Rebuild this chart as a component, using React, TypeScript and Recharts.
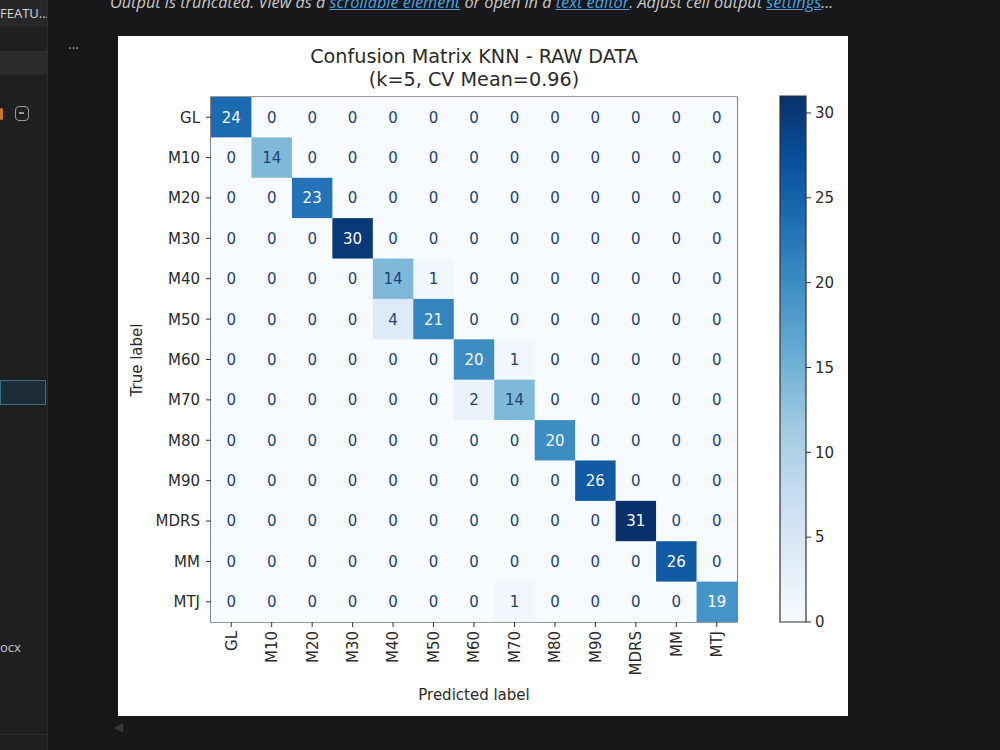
import React from 'react';
import { ScatterChart, Scatter, XAxis, YAxis, ReferenceArea, BarChart, Bar } from 'recharts';

const labels = ['GL', 'M10', 'M20', 'M30', 'M40', 'M50', 'M60', 'M70', 'M80', 'M90', 'MDRS', 'MM', 'MTJ'];

const rowGL = [24, 0, 0, 0, 0, 0, 0, 0, 0, 0, 0, 0, 0];
const rowM10 = [0, 14, 0, 0, 0, 0, 0, 0, 0, 0, 0, 0, 0];
const rowM20 = [0, 0, 23, 0, 0, 0, 0, 0, 0, 0, 0, 0, 0];
const rowM30 = [0, 0, 0, 30, 0, 0, 0, 0, 0, 0, 0, 0, 0];
const rowM40 = [0, 0, 0, 0, 14, 1, 0, 0, 0, 0, 0, 0, 0];
const rowM50 = [0, 0, 0, 0, 4, 21, 0, 0, 0, 0, 0, 0, 0];
const rowM60 = [0, 0, 0, 0, 0, 0, 20, 1, 0, 0, 0, 0, 0];
const rowM70 = [0, 0, 0, 0, 0, 0, 2, 14, 0, 0, 0, 0, 0];
const rowM80 = [0, 0, 0, 0, 0, 0, 0, 0, 20, 0, 0, 0, 0];
const rowM90 = [0, 0, 0, 0, 0, 0, 0, 0, 0, 26, 0, 0, 0];
const rowMDRS = [0, 0, 0, 0, 0, 0, 0, 0, 0, 0, 31, 0, 0];
const rowMM = [0, 0, 0, 0, 0, 0, 0, 0, 0, 0, 0, 26, 0];
const rowMTJ = [0, 0, 0, 0, 0, 0, 0, 1, 0, 0, 0, 0, 19];

const matrix = [rowGL, rowM10, rowM20, rowM30, rowM40, rowM50, rowM60, rowM70, rowM80, rowM90, rowMDRS, rowMM, rowMTJ];
const colorbarTicks = [0, 5, 10, 15, 20, 25, 30];

const vmin = Math.min(...matrix.flat());
const vmax = Math.max(...matrix.flat());
const thresh = (vmin + vmax) / 2;

const BLUES = ['#f7fbff', '#deebf7', '#c6dbef', '#9ecae1', '#6baed6', '#4292c6', '#2171b5', '#08519c', '#08306b'];

function hexToRgb(h: string) {
  return [parseInt(h.slice(1, 3), 16), parseInt(h.slice(3, 5), 16), parseInt(h.slice(5, 7), 16)];
}
function blues(t: number) {
  const c = Math.max(0, Math.min(1, t));
  const p = c * (BLUES.length - 1);
  const i = Math.min(BLUES.length - 2, Math.floor(p));
  const f = p - i;
  const a = hexToRgb(BLUES[i]);
  const b = hexToRgb(BLUES[i + 1]);
  const r = a.map((v, k) => Math.round(v + (b[k] - v) * f));
  return `rgb(${r[0]},${r[1]},${r[2]})`;
}

const cells = matrix.flatMap((row, i) => row.map((v, j) => ({ x: j, y: i, v })));
const idx = labels.map((_, i) => i);
const cbData = [{ name: 'cb', v: vmax }];

const FONT = '"DejaVu Sans", Verdana, sans-serif';
const BOX_W = 730;
const BOX_H = 680;
const MARGIN = { top: 61, right: 111, left: 33, bottom: 34 };
const Y_W = 60;
const X_H = 60;
const PLOT_W = BOX_W - MARGIN.left - MARGIN.right - Y_W;
const PLOT_H = BOX_H - MARGIN.top - MARGIN.bottom - X_H;
const CW = PLOT_W / labels.length;
const CH = PLOT_H / labels.length;
const TEXT = '#2a2a2a';

const CellShape = (props: any) => {
  const { cx, cy, payload } = props;
  if (cx == null || cy == null) return null;
  const v = payload.v;
  return (
    <g>
      <rect x={cx - CW / 2} y={cy - CH / 2} width={CW + 0.6} height={CH + 0.6} fill={blues((v - vmin) / (vmax - vmin))} />
      <text
        x={cx}
        y={cy}
        dy="0.36em"
        textAnchor="middle"
        fontSize={15}
        fontFamily={FONT}
        fill={v < thresh ? '#1f4276' : '#f7fbff'}
      >
        {v}
      </text>
    </g>
  );
};

const YTick = (props: any) => {
  const { x, y, payload } = props;
  return (
    <text x={x} y={y} dy="0.36em" textAnchor="end" fontSize={15} fontFamily={FONT} fill={TEXT}>
      {labels[payload.value]}
    </text>
  );
};

const XTick = (props: any) => {
  const { x, y, payload } = props;
  return (
    <text
      x={x}
      y={y}
      dy="0.36em"
      textAnchor="end"
      fontSize={15}
      fontFamily={FONT}
      fill={TEXT}
      transform={`rotate(-90, ${x}, ${y})`}
    >
      {labels[payload.value]}
    </text>
  );
};

const Sidebar = () => (
  <div style={{ position: 'absolute', left: 0, top: 0, width: 47, height: 750, background: '#1e1f21', borderRight: '1px solid #2c2c2e', overflow: 'hidden' }}>
    <div style={{ position: 'absolute', left: 0, top: 0, width: 47, height: 27, background: '#262729', color: '#d6d6d6', fontFamily: '"Open Sans", sans-serif', fontSize: 13, lineHeight: '27px', whiteSpace: 'nowrap' }}>FEATU...</div>
    <div style={{ position: 'absolute', left: 0, top: 51, width: 47, height: 24, background: '#2a2b2d' }} />
    <div style={{ position: 'absolute', left: 0, top: 108, width: 3, height: 12, background: '#c8782d', borderRadius: 2 }} />
    <div style={{ position: 'absolute', left: 15, top: 106, width: 14, height: 15, border: '1.5px solid #9a9a9a', borderRadius: 4, boxSizing: 'border-box' }}>
      <div style={{ position: 'absolute', left: 3, top: 5, width: 5, height: 1.5, background: '#9a9a9a' }} />
    </div>
    <div style={{ position: 'absolute', left: 0, top: 380, width: 46, height: 25, background: '#1d2c36', border: '1px solid #3c6b84', boxSizing: 'border-box' }} />
    <div style={{ position: 'absolute', left: 0, top: 638, color: '#c8c8c8', fontFamily: '"Open Sans", sans-serif', fontSize: 13 }}>ocx</div>
    <div style={{ position: 'absolute', left: 0, top: 734, width: 47, height: 1, background: '#2f2f31' }} />
  </div>
);

export default function App() {
  return (
    <div style={{ position: 'absolute', left: 0, top: 0, width: 1000, height: 750, background: '#18181a', overflow: 'hidden' }}>
      <Sidebar />
      <div
        style={{
          position: 'absolute',
          left: 110,
          top: -8,
          whiteSpace: 'nowrap',
          fontFamily: '"Open Sans", sans-serif',
          fontStyle: 'italic',
          fontSize: 16.3,
          lineHeight: '20px',
          color: '#c8c8c8',
        }}
      >
        Output is truncated. View as a{' '}
        <span style={{ color: '#4aa3e0', textDecoration: 'underline' }}>scrollable element</span> or open in a{' '}
        <span style={{ color: '#4aa3e0', textDecoration: 'underline' }}>text editor</span>. Adjust cell output{' '}
        <span style={{ color: '#4aa3e0', textDecoration: 'underline' }}>settings</span>...
      </div>
      <div style={{ position: 'absolute', left: 68, top: 34, color: '#9a9a9a', fontFamily: '"Open Sans", sans-serif', fontSize: 14 }}>...</div>
      <div style={{ position: 'absolute', left: 114, top: 720, color: '#3a3a3c', fontSize: 12 }}>◀</div>

      <div style={{ position: 'absolute', left: 118, top: 36, width: BOX_W, height: BOX_H, background: '#ffffff' }}>
        <div
          style={{
            position: 'absolute',
            left: MARGIN.left + Y_W - 20,
            top: 9,
            width: PLOT_W + 40,
            textAlign: 'center',
            fontFamily: FONT,
            fontSize: 19.2,
            lineHeight: '23px',
            color: TEXT,
          }}
        >
          Confusion Matrix KNN - RAW DATA
          <br />
          (k=5, CV Mean=0.96)
        </div>
        <div
          style={{
            position: 'absolute',
            left: 19,
            top: MARGIN.top + PLOT_H / 2,
            transform: 'translate(-50%, -50%) rotate(-90deg)',
            whiteSpace: 'nowrap',
            fontFamily: FONT,
            fontSize: 15,
            color: TEXT,
          }}
        >
          True label
        </div>
        <div
          style={{
            position: 'absolute',
            left: MARGIN.left + Y_W,
            width: PLOT_W,
            top: 650,
            textAlign: 'center',
            fontFamily: FONT,
            fontSize: 15,
            color: TEXT,
          }}
        >
          Predicted label
        </div>

        <div style={{ position: 'absolute', left: 0, top: 0 }}>
          <ScatterChart width={BOX_W} height={BOX_H} margin={MARGIN}>
            <XAxis
              type="number"
              dataKey="x"
              domain={[-0.5, labels.length - 0.5]}
              ticks={idx}
              interval={0}
              allowDataOverflow
              height={X_H}
              axisLine={false}
              tickLine={{ stroke: '#333' }}
              tickSize={5}
              tickMargin={4}
              tick={<XTick />}
            />
            <YAxis
              type="number"
              dataKey="y"
              domain={[-0.5, labels.length - 0.5]}
              ticks={idx}
              interval={0}
              reversed
              allowDataOverflow
              width={Y_W}
              axisLine={false}
              tickLine={{ stroke: '#333' }}
              tickSize={5}
              tickMargin={6}
              tick={<YTick />}
            />
            <Scatter data={cells} shape={<CellShape />} isAnimationActive={false} />
            <ReferenceArea
              x1={-0.5}
              x2={labels.length - 0.5}
              y1={-0.5}
              y2={labels.length - 0.5}
              fill="none"
              fillOpacity={0}
              stroke="#333"
              strokeWidth={1.2}
              ifOverflow="visible"
            />
          </ScatterChart>
        </div>

        <div style={{ position: 'absolute', left: 652, top: 50 }}>
          <BarChart width={90} height={546} data={cbData} margin={{ top: 10, bottom: 10, left: 10, right: 0 }} barCategoryGap={0}>
            <defs>
              <linearGradient id="cbGrad" x1="0" y1="1" x2="0" y2="0">
                {BLUES.map((c, i) => (
                  <stop key={i} offset={`${(i / (BLUES.length - 1)) * 100}%`} stopColor={c} />
                ))}
              </linearGradient>
            </defs>
            <XAxis dataKey="name" hide />
            <YAxis
              orientation="right"
              type="number"
              domain={[vmin, vmax]}
              ticks={colorbarTicks}
              interval={0}
              width={54}
              axisLine={false}
              tickLine={{ stroke: '#333' }}
              tickSize={5}
              tickMargin={4}
              tick={{ fontSize: 15, fontFamily: FONT, fill: TEXT }}
            />
            <Bar dataKey="v" fill="url(#cbGrad)" stroke="#333" strokeWidth={1.2} isAnimationActive={false} />
          </BarChart>
        </div>
      </div>
    </div>
  );
}
